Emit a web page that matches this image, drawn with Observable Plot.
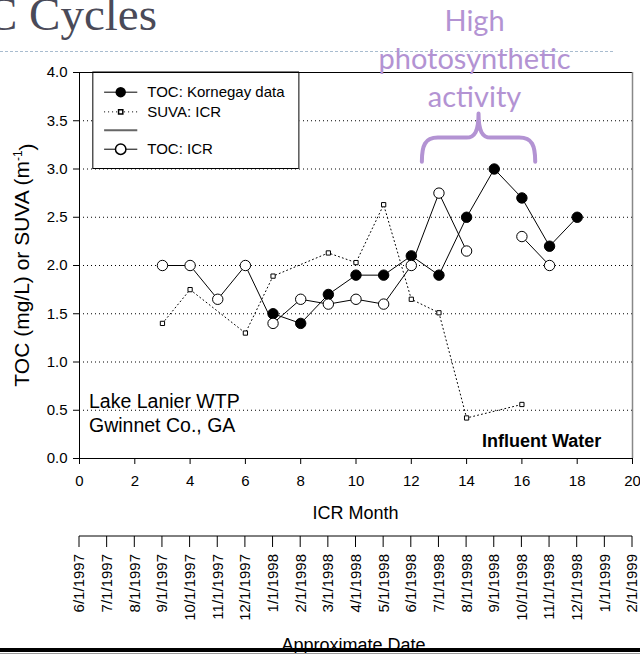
<!DOCTYPE html>
<html><head><meta charset="utf-8">
<script src="https://cdn.jsdelivr.net/npm/d3@7"></script>
<script src="https://cdn.jsdelivr.net/npm/@observablehq/plot@0.6"></script>
<style>
html,body{margin:0;padding:0;background:#fff;}
#chart{width:640px;height:654px;overflow:hidden;position:relative;}
#chart svg{display:block;}
</style></head><body><div id="chart"></div>
<script>
// ---------- data ----------
const icrMonthTicks = [0,2,4,6,8,10,12,14,16,18,20];
const yTicks = [0,0.5,1.0,1.5,2.0,2.5,3.0,3.5,4.0];
const gridValues = [0.5,1.0,1.5,2.0,2.5,3.0,3.5];
const dateMonths = [0,1,2,3,4,5,6,7,8,9,10,11,12,13,14,15,16,17,18,19,20];
const dateLabels = ["6/1/1997","7/1/1997","8/1/1997","9/1/1997","10/1/1997","11/1/1997","12/1/1997",
  "1/1/1998","2/1/1998","3/1/1998","4/1/1998","5/1/1998","6/1/1998","7/1/1998","8/1/1998",
  "9/1/1998","10/1/1998","11/1/1998","12/1/1998","1/1/1999","2/1/1999"];

const kornegayMonths = [7,8,9,10,11,12,13,14,15,16,17,18];
const kornegayTOC   = [1.5,1.4,1.7,1.9,1.9,2.1,1.9,2.5,3.0,2.7,2.2,2.5];

const icrMonths = [3,4,5,6,7,8,9,10,11,12,13,14,15,16,17];
const icrTOC    = [2.0,2.0,1.65,2.0,1.4,1.65,1.6,1.65,1.6,2.0,2.75,2.15,null,2.3,2.0];

const suvaMonths = [3,4,6,7,9,10,11,12,13,14,16];
const suvaValues = [1.40,1.75,1.30,1.89,2.13,2.03,2.63,1.65,1.51,0.42,0.56];

const legendLabels = ["TOC: Kornegay data","SUVA: ICR","","TOC: ICR"];
const legendRowY = [3.796,3.592,3.402,3.205];
const legendBox = {x1:0.5, x2:7.94, y1:3.0, y2:4.0};
const legendLine = {x1:0.89, x2:2.09, marker:1.49, text:2.45};

const brace = {x1:12.4, xm:14.45, x2:16.5, yEnd:3.07, yMid:3.32, yTip:3.57};
const noteLines = ["High","photosynthetic","activity"];

// ---------- tables ----------
const kornegay = kornegayMonths.map((m,i)=>({month:m, value:kornegayTOC[i]}));
const icr = icrMonths.map((m,i)=>({month:m, value:icrTOC[i]}));
const suva = suvaMonths.map((m,i)=>({month:m, value:suvaValues[i]}));
const legend = legendLabels.map((t,i)=>({label:t, y:legendRowY[i]}));

const purple = "#b393d3";
const sans = "'Liberation Sans', Arial, Helvetica, sans-serif";

function decorations(index, scales, values, dims) {
  const {x, y} = scales;
  const g = d3.create("svg:g");
  // slide title (clipped at left)
  g.append("text").attr("x", 157).attr("y", 30).attr("text-anchor","end")
    .attr("font-family","'Liberation Serif', 'Times New Roman', serif").attr("font-size", 47)
    .attr("fill","#4a4a58").text("TOC Cycles");
  // dashed separator
  g.append("line").attr("x1",0).attr("x2",615).attr("y1",51.5).attr("y2",51.5)
    .attr("stroke","#a9bccf").attr("stroke-dasharray","3,2");
  // purple note
  const cx = x(brace.xm) - 4;
  const bl = [31, 68.5, 107];
  noteLines.forEach((t,i)=>{
    g.append("text").attr("x",cx).attr("y",bl[i]).attr("text-anchor","middle")
      .attr("font-family","Lato, 'Open Sans', sans-serif").attr("font-size",29)
      .attr("fill",purple).text(t);
  });
  // brace
  const x1 = x(brace.x1), x2 = x(brace.x2), xm = x(brace.xm);
  const yE = y(brace.yEnd), yM = y(brace.yMid), yT = y(brace.yTip);
  const p = `M${x1},${yE} C${x1},${yM+8} ${x1+3},${yM} ${x1+16},${yM} L${xm-12},${yM}`+
            ` C${xm-4},${yM} ${xm},${yM-6} ${xm},${yT} C${xm},${yM-6} ${xm+4},${yM} ${xm+12},${yM}`+
            ` L${x2-16},${yM} C${x2-3},${yM} ${x2},${yM+8} ${x2},${yE}`;
  g.append("path").attr("d",p).attr("fill","none").attr("stroke",purple)
    .attr("stroke-width",4).attr("stroke-linecap","round").attr("stroke-linejoin","round");
  // y axis title
  const yt = g.append("text").attr("transform",`translate(29,${y(2.0)}) rotate(-90)`)
    .attr("text-anchor","middle").attr("font-family",sans).attr("font-size",21).attr("fill","#000");
  yt.append("tspan").text("TOC (mg/L) or SUVA (m");
  yt.append("tspan").attr("dy","-0.55em").attr("font-size",12).text("-1");
  yt.append("tspan").attr("dy","0.55em").text(")");
  // x axis title
  g.append("text").attr("x",x(10)).attr("y",519).attr("text-anchor","middle")
    .attr("font-family",sans).attr("font-size",18).text("ICR Month");
  // secondary date axis
  const ax = 536;
  g.append("line").attr("x1",x(0)).attr("x2",x(20)).attr("y1",ax).attr("y2",ax).attr("stroke","#000");
  dateMonths.forEach((m,i)=>{
    g.append("line").attr("x1",x(m)).attr("x2",x(m)).attr("y1",ax).attr("y2",ax+11).attr("stroke","#000");
    g.append("text").attr("transform",`translate(${x(m)+5.4},554) rotate(-90)`)
      .attr("text-anchor","end").attr("font-family",sans).attr("font-size",15).text(dateLabels[i]);
  });
  g.append("text").attr("x",x(9.93)).attr("y",651).attr("text-anchor","middle")
    .attr("font-family",sans).attr("font-size",18).text("Approximate Date");
  // bottom slide bar
  g.append("rect").attr("x",0).attr("y",648).attr("width",dims.width).attr("height",4).attr("fill","#000");
  g.append("rect").attr("x",0).attr("y",653).attr("width",dims.width).attr("height",1).attr("fill","#999");
  // plot annotations
  g.append("text").attr("x",89).attr("y",408).attr("text-anchor","start").attr("font-family",sans)
    .attr("font-size",19.5).text("Lake Lanier WTP");
  g.append("text").attr("x",89).attr("y",432).attr("text-anchor","start").attr("font-family",sans)
    .attr("font-size",19.5).text("Gwinnet Co., GA");
  g.append("text").attr("x",482).attr("y",447).attr("text-anchor","start").attr("font-family",sans)
    .attr("font-size",18).attr("font-weight","bold").text("Influent Water");
  return g.node();
}

const chart = Plot.plot({
  width: 640, height: 654,
  marginLeft: 79, marginRight: 8, marginTop: 72, marginBottom: 196,
  style: {fontFamily: sans, fontSize: "15px", color: "#000", background: "#fff", overflow: "visible"},
  x: {domain: [0,20], ticks: icrMonthTicks, tickSize: 6, tickPadding: 11, label: null, tickFormat: d => String(d)},
  y: {domain: [0,4], ticks: yTicks, tickSize: 6, tickPadding: 6, label: null, tickFormat: d => d.toFixed(1)},
  marks: [
    Plot.ruleY(gridValues, {stroke: "#000", strokeDasharray: "1,3", strokeWidth: 1}),
    // legend box
    Plot.rect([legendBox], {x1:"x1", x2:"x2", y1:"y1", y2:"y2", fill:"#fff", stroke:"#000", strokeWidth:1}),
    Plot.ruleX([legendBox.x2], {y1: legendBox.y1, y2: legendBox.y2, stroke:"#888", strokeWidth:1.5}),
    // frame
    Plot.ruleY([4], {stroke:"#000"}),
    Plot.ruleY([0], {stroke:"#000"}),
    Plot.ruleX([0], {stroke:"#000"}),
    Plot.ruleX([20], {stroke:"#888", strokeWidth:1.5}),
    // SUVA
    Plot.line(suva, {x:"month", y:"value", stroke:"#000", strokeWidth:1, strokeDasharray:"1,3"}),
    Plot.dot(suva, {x:"month", y:"value", symbol:"square", r:2.4, fill:"#fff", stroke:"#000", strokeWidth:1}),
    // Kornegay
    Plot.line(kornegay, {x:"month", y:"value", stroke:"#000", strokeWidth:1}),
    Plot.dot(kornegay, {x:"month", y:"value", r:5.2, fill:"#000", stroke:"#000", strokeWidth:1}),
    // ICR TOC
    Plot.line(icr, {x:"month", y:"value", stroke:"#000", strokeWidth:1}),
    Plot.dot(icr, {x:"month", y:"value", r:5.2, fill:"#fff", stroke:"#000", strokeWidth:1}),
    // legend entries
    Plot.link([legend[0]], {x1: legendLine.x1, x2: legendLine.x2, y1:"y", y2:"y", stroke:"#000"}),
    Plot.dot([legend[0]], {x: legendLine.marker, y:"y", r:5.2, fill:"#000"}),
    Plot.link([legend[1]], {x1: legendLine.x1, x2: legendLine.x2, y1:"y", y2:"y", stroke:"#000", strokeDasharray:"1,3"}),
    Plot.dot([legend[1]], {x: legendLine.marker, y:"y", symbol:"square", r:2.4, fill:"#fff", stroke:"#000"}),
    Plot.link([legend[2]], {x1: legendLine.x1, x2: legendLine.x2, y1:"y", y2:"y", stroke:"#666", strokeWidth:2}),
    Plot.link([legend[3]], {x1: legendLine.x1, x2: legendLine.x2, y1:"y", y2:"y", stroke:"#000"}),
    Plot.dot([legend[3]], {x: legendLine.marker, y:"y", r:5.2, fill:"#fff", stroke:"#000"}),
    Plot.text(legend, {x: legendLine.text, y:"y", text:"label", textAnchor:"start", fontSize:15, fill:"#000"}),
    decorations
  ]
});
document.getElementById("chart").appendChild(chart);
</script>
</body></html>
